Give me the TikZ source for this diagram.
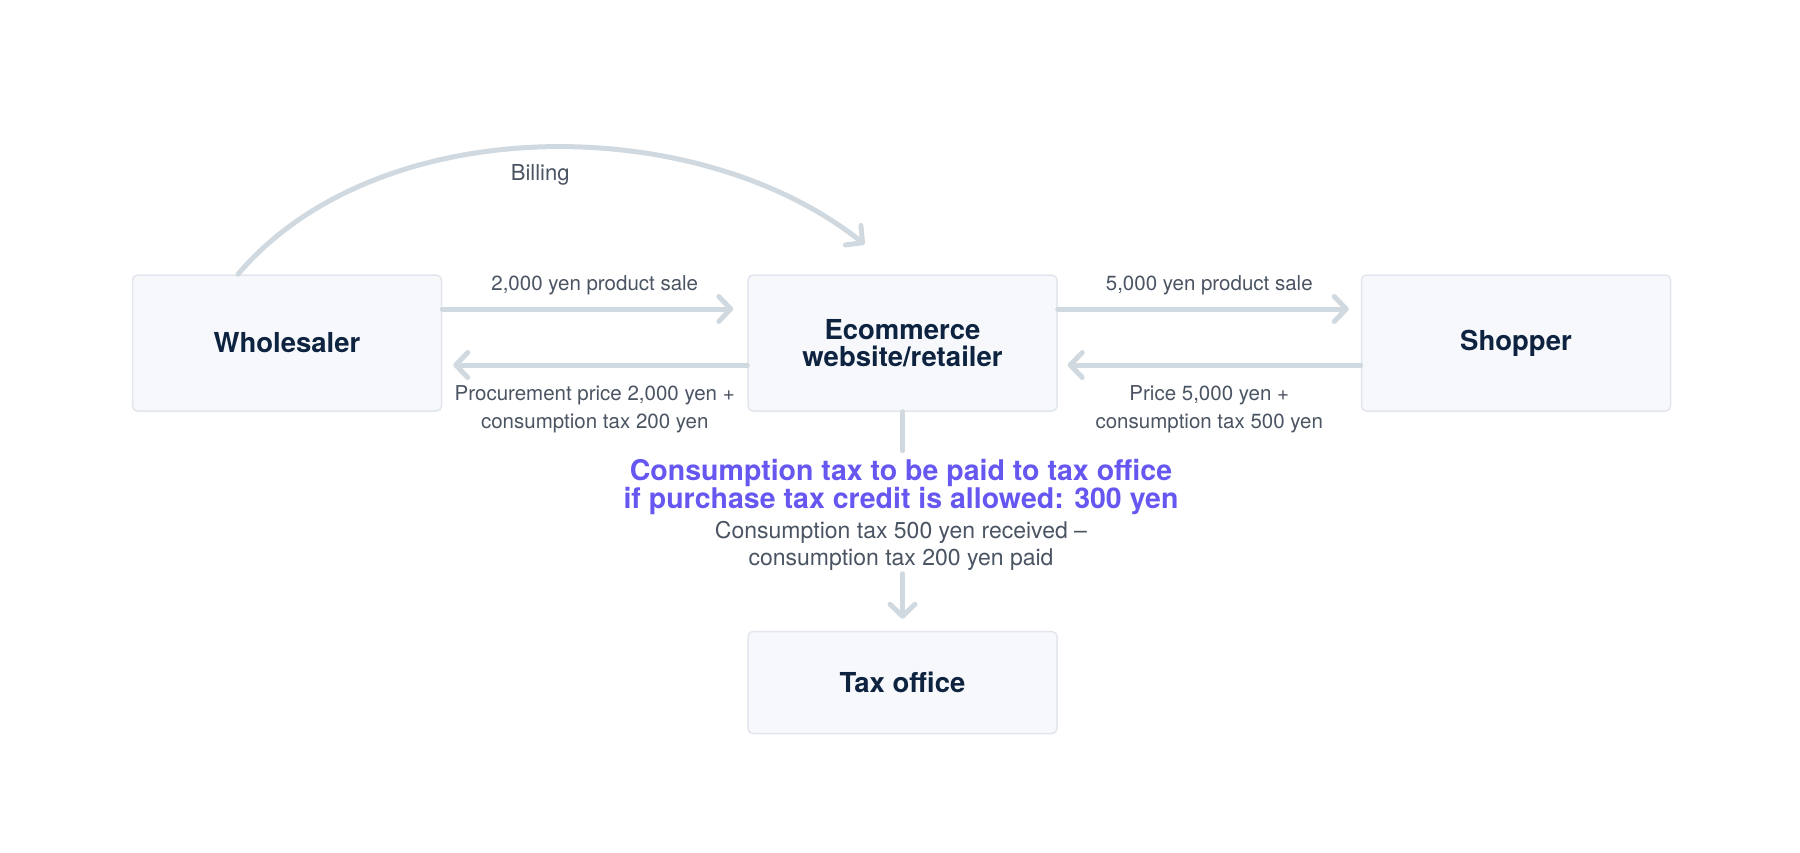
\documentclass[tikz,border=0pt]{standalone}
\usepackage{fontspec}
\setmainfont{TeX Gyre Heros}
\usepackage{tikz}
\usetikzlibrary{positioning,arrows.meta}

\definecolor{boxfill}{HTML}{F6F8FB}
\definecolor{boxline}{HTML}{E2E6EC}
\definecolor{flowgray}{HTML}{D1D9E0}
\definecolor{navy}{HTML}{0D2340}
\definecolor{labelgray}{HTML}{4A5462}
\definecolor{taxpurple}{HTML}{6657F0}

\begin{document}
\begin{tikzpicture}[%
  x=1pt,
  y=-1pt,
  >={Straight Barb[length=12pt,width=25pt,round]},
  party/.style={
    draw=boxline,
    line width=1.5pt,
    fill=boxfill,
    rounded corners=5pt,
    minimum width=309pt,
    minimum height=136pt,
    align=center,
    text=navy,
    font=\bfseries\fontsize{27.5}{27}\selectfont},
  lbl/.style={
    text=labelgray,
    align=center,
    font=\fontsize{20.5}{28}\selectfont},
  flow/.style={
    ->,
    draw=flowgray,
    line width=5pt,
    line cap=round},
  ]
  \useasboundingbox (0,0) rectangle (1800,852);
  %% Nodes
  \node[party] (W) at (287,343) {Wholesaler};
  \node[party, right = 305pt of W] (E) {Ecommerce\\website/retailer};
  \node[party, right = 303pt of E] (S) {Shopper};
  \node[party, minimum height=102pt, below = 219pt of E] (T) {Tax office};
  \node[align=center, text=taxpurple, font=\bfseries\fontsize{28.5}{27}\selectfont]
    (note) at (901,487) {Consumption tax to be paid to tax office\\if purchase tax credit is allowed: 300 yen};
  \node[lbl, font=\fontsize{23}{27}\selectfont, below = -1pt of note] (calc)
    {Consumption tax 500 yen received –\\consumption tax 200 yen paid};
  \coordinate (Ebot) at ([yshift=-39pt]E.south);
  \coordinate (Ttop) at ([yshift=57pt]T.north);
  %% Edges
  \draw[flow, shorten >=14pt] ([yshift=34pt]W.east) --
    node[lbl, yshift=24pt] {2,000 yen product sale} ([yshift=34pt]E.west);
  \draw[flow, shorten >=11pt] ([yshift=-22pt]E.west) --
    node[lbl, yshift=-44pt] {Procurement price 2,000 yen +\\consumption tax 200 yen} ([yshift=-22pt]W.east);
  \draw[flow, shorten >=12pt] ([yshift=34pt]E.east) --
    node[lbl, yshift=24pt] {5,000 yen product sale} ([yshift=34pt]S.west);
  \draw[flow, shorten >=10pt] ([yshift=-22pt]S.west) --
    node[lbl, yshift=-44pt] {Price 5,000 yen +\\consumption tax 500 yen} ([yshift=-22pt]E.east);
  \draw[flow, -] (E.south) -- (Ebot);
  \draw[flow, shorten >=12pt] (Ttop) -- (T.north);
  \draw[flow] ([xshift=-49pt]W.north) .. controls (377,110) and (696,110) ..
    node[lbl, font=\fontsize{22}{24}\selectfont, yshift=-28pt] {Billing} ([xshift=-38pt,yshift=30pt]E.north);
\end{tikzpicture}
\end{document}
